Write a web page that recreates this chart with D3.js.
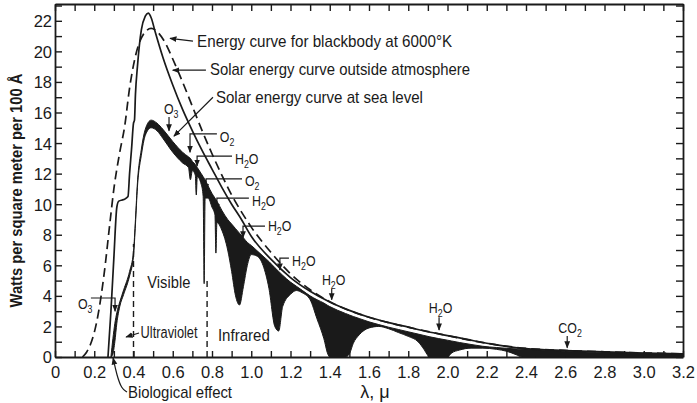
<!DOCTYPE html>
<html>
<head>
<meta charset="utf-8">
<script src="https://cdn.jsdelivr.net/npm/d3@7"></script>
<style>
  body { margin: 0; background: #fff; }
  svg text { font-family: "Liberation Sans", Arial, sans-serif; fill: #1a1a1a; }
</style>
</head>
<body>
<svg id="chart" width="697" height="403"></svg>
<script>
// Blackbody 6000°K (dashed) : [wavelength µ, watts]
const blackbody = [
  [0.14, 0], [0.16, 0.3], [0.18, 0.8], [0.20, 1.6], [0.22, 2.8], [0.25, 5.4], [0.28, 8.8],
  [0.30, 11.0], [0.33, 13.4], [0.355, 15.1], [0.38, 17.6], [0.41, 19.7], [0.45, 21.1],
  [0.49, 21.5], [0.52, 21.3], [0.56, 20.6], [0.60, 19.5], [0.65, 18.0], [0.70, 16.4],
  [0.75, 14.8], [0.80, 13.3], [0.85, 11.9], [0.90, 10.6], [0.95, 9.5], [1.0, 8.5],
  [1.1, 6.85], [1.2, 5.45], [1.3, 4.4], [1.4, 3.62], [1.6, 2.6], [1.8, 1.95], [2.0, 1.4],
  [2.2, 0.9], [2.4, 0.56], [2.6, 0.43], [2.8, 0.34], [3.0, 0.27], [3.2, 0.21]
];

// Solar curve outside atmosphere (thin solid)
const outside = [
  [0.27, 0], [0.285, 3.0], [0.30, 6.5], [0.315, 9.8], [0.325, 10.2], [0.35, 10.3], [0.372, 10.5],
  [0.38, 12.0], [0.39, 13.6], [0.40, 15.3], [0.405, 15.5], [0.41, 17.2], [0.42, 19.0],
  [0.43, 20.4], [0.44, 21.4], [0.46, 22.3], [0.475, 22.5], [0.49, 22.2], [0.51, 21.3],
  [0.55, 19.6], [0.60, 17.8], [0.65, 16.2], [0.70, 14.8], [0.75, 13.5], [0.80, 12.3],
  [0.85, 11.1], [0.90, 10.0], [0.95, 9.0], [1.0, 7.9], [1.1, 6.4], [1.2, 5.2], [1.3, 4.3],
  [1.4, 3.6], [1.5, 3.05], [1.6, 2.6], [1.7, 2.25], [1.8, 1.95], [1.9, 1.65], [2.0, 1.4],
  [2.1, 1.15], [2.2, 0.9], [2.3, 0.7], [2.4, 0.55], [2.6, 0.42], [2.8, 0.33], [3.0, 0.26], [3.2, 0.2]
];

// Sea level curve: [wavelength, top of black band, bottom (actual sea-level curve)]
const seaLevel = [
  [0.285, 0, 0], [0.295, 1.2, 0.2], [0.305, 2.2, 1.0], [0.315, 2.9, 2.2], [0.33, 3.6, 3.3],
  [0.35, 4.4, 4.1], [0.38, 5.6, 5.3], [0.40, 6.9, 6.6], [0.41, 9.0, 8.7], [0.42, 11.4, 11.1],
  [0.44, 13.6, 13.2], [0.46, 14.9, 14.5], [0.49, 15.5, 15.0], [0.52, 15.3, 14.8],
  [0.55, 14.9, 14.3], [0.60, 14.1, 13.4], [0.65, 13.4, 12.7], [0.68, 13.1, 12.4],
  [0.69, 13.0, 11.6], [0.70, 12.8, 12.2], [0.715, 12.6, 11.9], [0.72, 12.5, 10.6],
  [0.725, 12.4, 11.8], [0.745, 12.0, 11.3], [0.755, 11.8, 10.5], [0.76, 11.7, 4.8],
  [0.765, 11.6, 10.4], [0.78, 11.2, 10.4], [0.80, 10.7, 9.8], [0.815, 10.4, 9.3],
  [0.82, 10.3, 6.8], [0.825, 10.2, 8.8], [0.85, 9.6, 8.3], [0.88, 9.0, 7.0], [0.90, 8.7, 5.6],
  [0.92, 8.4, 4.0], [0.94, 8.1, 3.4], [0.96, 7.8, 4.6], [0.98, 7.5, 6.0], [1.00, 7.3, 6.7],
  [1.03, 6.95, 6.6], [1.06, 6.6, 6.0], [1.09, 6.25, 4.5], [1.12, 5.85, 2.0], [1.14, 5.6, 1.7],
  [1.16, 5.35, 3.3], [1.20, 4.9, 4.1], [1.23, 4.63, 4.35], [1.26, 4.36, 4.2], [1.30, 4.0, 3.75],
  [1.335, 3.75, 2.5], [1.37, 3.53, 1.2], [1.39, 3.37, 0.2], [1.40, 3.3, 0], [1.48, 2.85, 0],
  [1.50, 2.75, 0.2], [1.52, 2.65, 0.9], [1.55, 2.52, 1.45], [1.60, 2.3, 1.9],
  [1.65, 2.12, 2.0], [1.70, 1.95, 1.85], [1.75, 1.8, 1.6], [1.80, 1.65, 1.35],
  [1.85, 1.5, 1.0], [1.88, 1.41, 0.5], [1.90, 1.35, 0.1], [1.91, 1.32, 0], [2.00, 1.1, 0],
  [2.02, 1.05, 0.25], [2.06, 0.95, 0.45], [2.12, 0.82, 0.58], [2.18, 0.7, 0.58],
  [2.25, 0.62, 0.5], [2.30, 0.57, 0.38], [2.35, 0.53, 0.15], [2.38, 0.5, 0],
  [2.45, 0.47, 0], [2.6, 0.38, 0], [2.8, 0.3, 0], [3.0, 0.24, 0], [3.2, 0.19, 0]
];

const xLabelValues = [0, 0.2, 0.4, 0.6, 0.8, 1.0, 1.2, 1.4, 1.6, 1.8, 2.0, 2.2, 2.4, 2.6, 2.8, 3.0, 3.2];
const yLabelValues = [0, 2, 4, 6, 8, 10, 12, 14, 16, 18, 20, 22];

const ink = "#1a1a1a";
const svg = d3.select("#chart");

const x = d3.scaleLinear().domain([0, 3.2]).range([55, 683]);
const y = d3.scaleLinear().domain([0, 23.1]).range([357, 4]);

// arrow head
svg.append("defs").append("marker")
  .attr("id", "arr").attr("viewBox", "0 0 10 10").attr("refX", 9).attr("refY", 5)
  .attr("markerWidth", 6).attr("markerHeight", 6).attr("orient", "auto")
  .append("path").attr("d", "M0,1 L10,5 L0,9 Z").attr("fill", ink);

// axes (ticks pointing inward)
const xTicks = d3.range(0, 33).map(i => i / 10);
const yTicks = d3.range(0, 24);
const fmtX = d => xLabelValues.some(v => Math.abs(v - d) < 1e-6) ? (d === 0 ? "0" : d3.format(".1f")(d)) : "";

const axB = svg.append("g").attr("transform", `translate(0,${y(0)})`)
  .call(d3.axisBottom(x).tickValues(xTicks).tickSize(-6).tickSizeOuter(0).tickFormat(fmtX));
const axT = svg.append("g").attr("transform", `translate(0,${y(23.1)})`)
  .call(d3.axisTop(x).tickValues(xTicks).tickSize(-7).tickSizeOuter(0).tickFormat(""));
const axL = svg.append("g").attr("transform", `translate(${x(0)},0)`)
  .call(d3.axisLeft(y).tickValues(yTicks).tickSize(-7).tickSizeOuter(0)
    .tickFormat(d => yLabelValues.includes(d) ? d : ""));
const axR = svg.append("g").attr("transform", `translate(${x(3.2)},0)`)
  .call(d3.axisRight(y).tickValues(yTicks).tickSize(-7).tickSizeOuter(0).tickFormat(""));

[axB, axT, axL, axR].forEach(g => {
  g.selectAll("path.domain").attr("stroke", ink).attr("stroke-width", 1.8);
  g.selectAll(".tick line").attr("stroke", ink).attr("stroke-width", 1.4);
  g.selectAll(".tick text").attr("font-size", 16.5).attr("fill", ink)
    .style("font-family", '"Liberation Sans", Arial, sans-serif');
});
axB.selectAll(".tick text").attr("dy", null).attr("y", 21);
axL.selectAll(".tick text").attr("x", -3).attr("dy", "0.36em");

// sea-level black bands
svg.append("path").datum(seaLevel)
  .attr("d", d3.area().x(d => x(d[0])).y0(d => y(d[2])).y1(d => y(d[1])).curve(d3.curveMonotoneX))
  .attr("fill", ink).attr("stroke", ink).attr("stroke-width", 1);

// outside atmosphere
svg.append("path").datum(outside)
  .attr("d", d3.line().x(d => x(d[0])).y(d => y(d[1])).curve(d3.curveMonotoneX))
  .attr("fill", "none").attr("stroke", ink).attr("stroke-width", 1.7);

// blackbody dashed
svg.append("path").datum(blackbody)
  .attr("d", d3.line().x(d => x(d[0])).y(d => y(d[1])).curve(d3.curveMonotoneX))
  .attr("fill", "none").attr("stroke", ink).attr("stroke-width", 1.7)
  .attr("stroke-dasharray", "9,5");

// visible / infrared limits
[[0.40, 7.4], [0.775, 5.0]].forEach(([l, top]) => {
  svg.append("line").attr("x1", x(l)).attr("x2", x(l)).attr("y1", y(0)).attr("y2", y(top))
    .attr("stroke", ink).attr("stroke-width", 1.4).attr("stroke-dasharray", "6,4");
});

const line = d3.line().x(d => x(d[0])).y(d => y(d[1]));

// squeezed text helper (narrow face of the original)
function label(px, py, str, size, width, anchor) {
  const t = svg.append("text").attr("x", px).attr("y", py).attr("font-size", size).text(str);
  if (width) t.attr("textLength", width).attr("lengthAdjust", "spacingAndGlyphs");
  if (anchor) t.attr("text-anchor", anchor);
  return t;
}

// curve legends with leaders
const legends = [
  { text: "Energy curve for blackbody at 6000°K", at: [0.724, 20.28], w: 255, lead: [[0.703, 20.67], [0.586, 20.85]] },
  { text: "Solar energy curve outside atmosphere", at: [0.79, 18.44], w: 260, lead: [[0.769, 18.77], [0.60, 18.77]] },
  { text: "Solar energy curve at sea level", at: [0.82, 16.6], w: 207, lead: [[0.805, 17.0], [0.606, 14.45]] }
];
legends.forEach(l => {
  svg.append("path").attr("d", line(l.lead)).attr("fill", "none").attr("stroke", ink)
    .attr("stroke-width", 1.2).attr("marker-end", "url(#arr)");
  label(x(l.at[0]), y(l.at[1]), l.text, 17, l.w);
});

// absorption labels
const gases = [
  { m: "O", s: "3", t: "", at: [0.555, 15.9], lead: [[0.581, 15.7], [0.581, 14.8]] },
  { m: "O", s: "2", t: "", at: [0.84, 14.1], lead: [[0.825, 14.6], [0.688, 14.6], [0.688, 13.4]] },
  { m: "H", s: "2", t: "O", at: [0.917, 12.6], lead: [[0.902, 13.15], [0.724, 13.15], [0.724, 12.5]] },
  { m: "O", s: "2", t: "", at: [0.968, 11.2], lead: [[0.953, 11.65], [0.77, 11.65], [0.77, 10.9]] },
  { m: "H", s: "2", t: "O", at: [1.004, 9.9], lead: [[0.988, 10.4], [0.825, 10.4], [0.825, 9.6]] },
  { m: "H", s: "2", t: "O", at: [1.085, 8.25], lead: [[1.07, 8.57], [0.958, 8.57], [0.958, 7.8]] },
  { m: "H", s: "2", t: "O", at: [1.208, 5.95], lead: [[1.192, 6.47], [1.146, 6.47], [1.146, 5.7]] },
  { m: "H", s: "2", t: "O", at: [1.36, 4.7], lead: [[1.41, 4.45], [1.41, 3.75]] },
  { m: "H", s: "2", t: "O", at: [1.905, 2.88], lead: [[1.957, 2.6], [1.957, 1.77]] },
  { m: "CO", s: "2", t: "", at: [2.565, 1.57], lead: [[2.61, 1.37], [2.61, 0.6]] },
  { m: "O", s: "3", t: "", at: [0.117, 3.14], lead: [[0.183, 3.86], [0.306, 3.86], [0.306, 3.0]] }
];
gases.forEach(g => {
  svg.append("path").attr("d", line(g.lead)).attr("fill", "none").attr("stroke", ink)
    .attr("stroke-width", 1.2).attr("marker-end", "url(#arr)");
  const t = svg.append("text").attr("x", x(g.at[0])).attr("y", y(g.at[1])).attr("font-size", 15.5)
    .attr("transform", `translate(${x(g.at[0])},0) scale(0.8,1) translate(${-x(g.at[0])},0)`);
  t.append("tspan").text(g.m);
  t.append("tspan").attr("dy", 4).attr("font-size", 11).text(g.s);
  if (g.t) t.append("tspan").attr("dy", -4).text(g.t);
});

// region labels
label(x(0.58), y(4.5), "Visible", 17, 43, "middle");
label(x(0.436), y(1.24), "Ultraviolet", 16, 57);
svg.append("path").attr("d", line([[0.428, 1.57], [0.362, 1.31]])).attr("stroke", ink)
  .attr("stroke-width", 1.2).attr("marker-end", "url(#arr)");
label(x(0.83), y(1.05), "Infrared", 17, 52);

// biological effect
svg.append("path")
  .attr("d", d3.line().x(d => x(d[0])).y(d => y(d[1])).curve(d3.curveBasis)([[0.367, -2.29], [0.34, -2.1], [0.315, -1.2], [0.296, -0.07]]))
  .attr("fill", "none").attr("stroke", ink).attr("stroke-width", 1.2).attr("marker-end", "url(#arr)");
label(x(0.372), y(-2.68), "Biological effect", 17, 104);

// axis titles
label(x(1.63), 398, "λ, μ", 18, null, "middle");
label(0, 0, "Watts per square meter per 100 Å", 16, 234, "middle")
  .attr("x", null).attr("y", null).attr("font-weight", "bold")
  .attr("transform", `translate(22,${(y(0) + y(23.1)) / 2 + 10}) rotate(-90)`);
</script>
</body>
</html>
